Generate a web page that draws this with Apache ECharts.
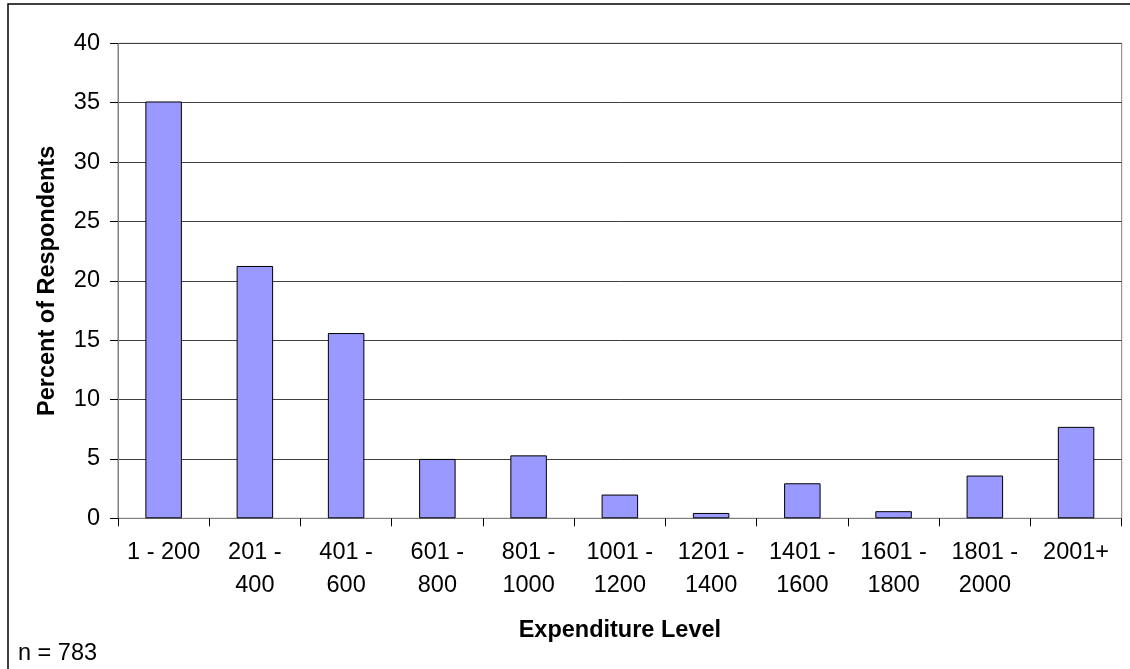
<!DOCTYPE html>
<html>
<head>
<meta charset="utf-8">
<script src="https://cdn.jsdelivr.net/npm/echarts@6/dist/echarts.min.js"></script>
<style>
html,body{margin:0;padding:0;background:#fff;}
#chart{width:1130px;height:669px;}
</style>
</head>
<body>
<div id="chart"></div>
<script>
const categories = ["1 - 200", "201 -\n400", "401 -\n600", "601 -\n800", "801 -\n1000", "1001 -\n1200", "1201 -\n1400", "1401 -\n1600", "1601 -\n1800", "1801 -\n2000", "2001+"];
const percentValues = [35.1, 21.25, 15.6, 5.0, 5.3, 2.0, 0.45, 2.95, 0.6, 3.6, 7.7];
const yTicks = { min: 0, max: 40, interval: 5 };
const xTitle = "Expenditure Level";
const yTitle = "Percent of Respondents";
const noteText = "n = 783";

const FONT = "'Liberation Sans', Arial, sans-serif";
const FS = 23.5;
const chart = echarts.init(document.getElementById('chart'), null, {renderer: 'canvas'});
chart.setOption({
  animation: false,
  backgroundColor: '#fff',
  textStyle: { fontFamily: FONT },
  grid: { left: 118, top: 43.3, right: 8.3, bottom: 150.7, show: true, borderColor: '#808080', borderWidth: 1, backgroundColor: 'transparent' },
  graphic: [
    { type: 'rect', shape: { x: 8, y: 4, width: 1140, height: 700 }, style: { fill: 'none', stroke: '#000', lineWidth: 1.5 }, silent: true, z: 100 },
    { type: 'text', left: 18, top: 642, style: { text: noteText, fontFamily: FONT, fontSize: FS, fill: '#000' } }
  ],
  xAxis: {
    type: 'category',
    data: categories,
    boundaryGap: true,
    name: xTitle,
    nameLocation: 'middle',
    nameGap: 100,
    nameTextStyle: { fontFamily: FONT, fontSize: FS, fontWeight: 'bold', color: '#000' },
    axisLine: { show: true, lineStyle: { color: '#808080', width: 1 } },
    axisTick: { show: true, length: 8, inside: false, lineStyle: { color: '#000' } },
    axisLabel: { fontFamily: FONT, fontSize: FS, color: '#000', lineHeight: 33, margin: 18, interval: 0 },
    splitLine: { show: false }
  },
  yAxis: {
    type: 'value',
    min: yTicks.min,
    max: yTicks.max,
    interval: yTicks.interval,
    name: yTitle,
    nameLocation: 'middle',
    nameGap: 58,
    nameRotate: 90,
    nameTextStyle: { fontFamily: FONT, fontSize: FS, fontWeight: 'bold', color: '#000' },
    axisLine: { show: true, lineStyle: { color: '#808080', width: 1 } },
    axisTick: { show: true, length: 8, inside: false, lineStyle: { color: '#000' } },
    axisLabel: { fontFamily: FONT, fontSize: FS, color: '#000', margin: 18 },
    splitLine: { show: true, lineStyle: { color: '#404040', width: 1 } }
  },
  series: [{
    type: 'bar',
    data: percentValues,
    barWidth: '40%',
    itemStyle: { color: '#9999FF', borderColor: '#000', borderWidth: 1 }
  }]
});
</script>
</body>
</html>
